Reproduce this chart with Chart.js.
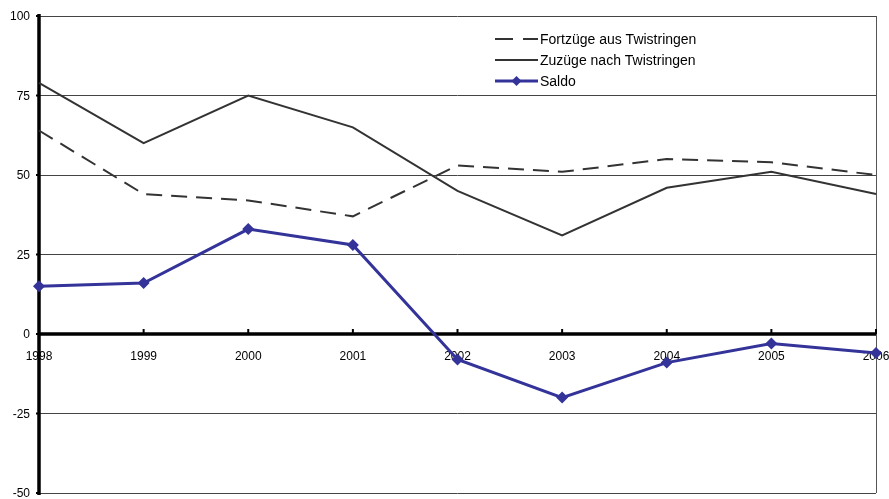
<!DOCTYPE html>
<html>
<head>
<meta charset="utf-8">
<script src="https://cdn.jsdelivr.net/npm/chart.js@4/dist/chart.umd.min.js"></script>
<style>
  html, body { margin: 0; padding: 0; background: #fff; }
  #wrap { width: 889px; height: 499px; position: relative; }
</style>
</head>
<body>
<div id="wrap"><canvas id="wanderChart"></canvas></div>
<script>
// years on the x axis
const years = ['1998', '1999', '2000', '2001', '2002', '2003', '2004', '2005', '2006'];

// series values
const fortzuege = [64, 44, 42, 37, 53, 51, 55, 54, 50];
const zuzuege   = [79, 60, 75, 65, 45, 31, 46, 51, 44];
const saldo     = [15, 16, 33, 28, -8, -20, -9, -3, -6];

// y axis tick values
const yTicks = [-50, -25, 0, 25, 50, 75, 100];

const FONT = { family: '"Liberation Sans", Arial, sans-serif', size: 12 };

// legend drawn inside the plot, top right like the original
const innerLegend = {
    id: 'innerLegend',
    afterDraw(chart) {
        const ctx = chart.ctx;
        const x0 = 495, y0 = 39, rowH = 21, lineW = 43;
        ctx.save();
        ctx.font = '14px ' + FONT.family;
        ctx.textBaseline = 'middle';
        chart.data.datasets.forEach((ds, i) => {
            const y = y0 + i * rowH;
            ctx.strokeStyle = ds.borderColor;
            ctx.lineWidth = ds.borderWidth;
            ctx.setLineDash(ds.borderDash ? [18, 10] : []);
            ctx.beginPath();
            ctx.moveTo(x0, y);
            ctx.lineTo(x0 + lineW, y);
            ctx.stroke();
            ctx.setLineDash([]);
            if (ds.pointRadius > 0) {
                const cx = x0 + lineW / 2, r = 5;
                ctx.fillStyle = ds.pointBackgroundColor;
                ctx.beginPath();
                ctx.moveTo(cx, y - r); ctx.lineTo(cx + r, y);
                ctx.lineTo(cx, y + r); ctx.lineTo(cx - r, y);
                ctx.closePath();
                ctx.fill();
            }
            ctx.fillStyle = '#000';
            ctx.fillText(ds.label, x0 + lineW + 2, y + 1);
        });
        ctx.restore();
    }
};

// thick left axis, thick zero line, small tick marks and right border
const axisLines = {
    id: 'axisLines',
    beforeDatasetsDraw(chart) {
        const ctx = chart.ctx;
        const xs = chart.scales.x, ys = chart.scales.y;
        const area = chart.chartArea;
        const y0 = ys.getPixelForValue(0);
        ctx.save();
        // right border
        ctx.strokeStyle = '#555';
        ctx.lineWidth = 1;
        ctx.beginPath();
        ctx.moveTo(area.right + 0.5, area.top);
        ctx.lineTo(area.right + 0.5, area.bottom);
        ctx.stroke();
        ctx.strokeStyle = '#000';
        // zero line
        ctx.lineWidth = 3.5;
        ctx.beginPath();
        ctx.moveTo(area.left, y0);
        ctx.lineTo(area.right, y0);
        ctx.stroke();
        // left axis
        ctx.beginPath();
        ctx.moveTo(area.left, area.top - 2);
        ctx.lineTo(area.left, area.bottom + 2);
        ctx.stroke();
        // x tick marks above the zero line
        ctx.lineWidth = 2;
        years.forEach((yr, i) => {
            const x = xs.getPixelForValue(i);
            ctx.beginPath();
            ctx.moveTo(x, y0);
            ctx.lineTo(x, y0 - 5);
            ctx.stroke();
        });
        // y tick marks left of the axis
        yTicks.forEach(v => {
            const y = ys.getPixelForValue(v);
            ctx.beginPath();
            ctx.moveTo(area.left - 3, y);
            ctx.lineTo(area.left, y);
            ctx.stroke();
        });
        ctx.restore();
    }
};

new Chart(document.getElementById('wanderChart'), {
    type: 'line',
    data: {
        labels: years,
        datasets: [
            {
                label: 'Fortzüge aus Twistringen',
                data: fortzuege,
                borderColor: '#333333',
                borderWidth: 2,
                borderDash: [16, 9],
                pointRadius: 0,
                tension: 0
            },
            {
                label: 'Zuzüge nach Twistringen',
                data: zuzuege,
                borderColor: '#333333',
                borderWidth: 2,
                pointRadius: 0,
                tension: 0
            },
            {
                label: 'Saldo',
                data: saldo,
                borderColor: '#333399',
                borderWidth: 3,
                pointStyle: 'rectRot',
                pointRadius: 6,
                pointBackgroundColor: '#333399',
                pointBorderColor: '#333399',
                pointBorderWidth: 0,
                tension: 0
            }
        ]
    },
    options: {
        responsive: true,
        maintainAspectRatio: false,
        animation: false,
        layout: { padding: { top: 16, right: 13, bottom: 5, left: 0 } },
        scales: {
            x: {
                offset: false,
                position: { y: 0 },
                afterFit(scale) {
                    scale.paddingLeft = 0;
                    scale.paddingRight = 0;
                    scale.paddingTop = 0;
                    scale.paddingBottom = 0;
                },
                grid: { display: false, drawTicks: false },
                border: { display: false },
                ticks: {
                    color: '#000',
                    font: FONT,
                    padding: 15,
                    maxRotation: 0,
                    autoSkip: false
                }
            },
            y: {
                min: -50,
                max: 100,
                afterFit(scale) {
                    scale.width = 39;
                    scale.paddingTop = 0;
                    scale.paddingBottom = 0;
                },
                afterBuildTicks(scale) { scale.ticks = yTicks.map(v => ({ value: v })); },
                grid: {
                    color: '#444',
                    lineWidth: 1,
                    drawTicks: false
                },
                border: { display: false },
                ticks: {
                    color: '#000',
                    font: FONT,
                    padding: 9,
                    labelOffset: 1
                }
            }
        },
        plugins: {
            legend: { display: false },
            tooltip: { enabled: false }
        }
    },
    plugins: [axisLines, innerLegend]
});
</script>
</body>
</html>
